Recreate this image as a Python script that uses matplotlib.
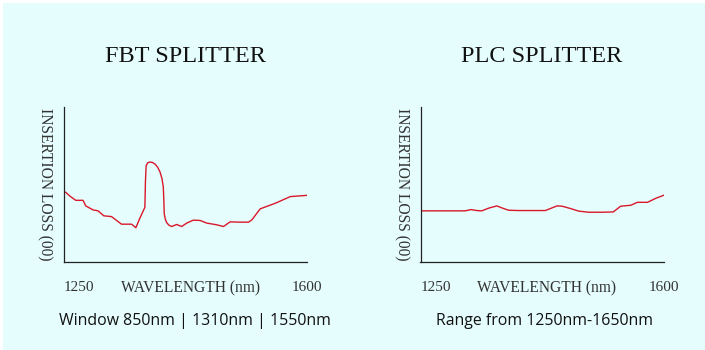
import matplotlib
matplotlib.use("Agg")
import matplotlib.pyplot as plt
from matplotlib.patches import Rectangle

# FBT splitter curve (wavelength nm, relative insertion loss)
fbt_wl = [1252.4, 1258.2, 1266.9, 1277.4, 1281.3, 1291.9, 1299.1, 1307.3, 1318.4,
          1332.8, 1347.3, 1353.5, 1359.3, 1366.5, 1367.3, 1368.3, 1370.5, 1373.7,
          1377.5, 1381.0, 1384.8, 1388.2, 1391.0, 1393.0, 1393.8, 1394.4, 1396.0,
          1397.8, 1401.0, 1405.0, 1412.3, 1419.5, 1426.7, 1436.3, 1446.0,
          1455.6, 1470.0, 1479.7, 1489.3, 1503.7, 1515.8, 1520.6, 1532.6, 1554.3,
          1576.0, 1600.0]
fbt_loss = [4.50, 4.26, 3.98, 3.98, 3.62, 3.36, 3.30, 2.98, 2.93,
            2.44, 2.44, 2.21, 2.83, 3.53, 5.20, 6.20, 6.40, 6.45,
            6.42, 6.32, 6.12, 5.82, 5.40, 4.86, 4.00, 3.10, 2.75,
            2.55, 2.38, 2.29, 2.42, 2.29, 2.51, 2.70, 2.68,
            2.51, 2.40, 2.29, 2.59, 2.57, 2.57, 2.72, 3.43, 3.79,
            4.22, 4.30]

# PLC splitter curve
plc_wl = [1250.0, 1314.1, 1322.8, 1331.0, 1338.2, 1347.9, 1359.9, 1367.2, 1376.8,
          1391.3, 1429.8, 1437.1, 1446.7, 1454.0, 1466.0, 1478.1, 1492.5, 1511.8,
          1527.7, 1538.3, 1552.8, 1562.4, 1576.9, 1589.0, 1600.0]
plc_loss = [3.30, 3.30, 3.38, 3.32, 3.30, 3.47, 3.62, 3.49, 3.34,
            3.32, 3.32, 3.45, 3.62, 3.60, 3.45, 3.28, 3.21, 3.21,
            3.23, 3.60, 3.66, 3.85, 3.85, 4.11, 4.30]

titles = ["FBT SPLITTER", "PLC SPLITTER"]
notes = ["Window 850nm | 1310nm | 1550nm", "Range from 1250nm-1650nm"]
tick_vals = [1250, 1600]

bg = "#e5fdfd"
serif = ["Liberation Serif", "DejaVu Serif"]

fig = plt.figure(figsize=(7.05, 3.5), dpi=100, facecolor="white")
fig.patches.append(Rectangle((3 / 705, 0), 1, 1 - 3 / 350, transform=fig.transFigure,
                             facecolor=bg, edgecolor="none", zorder=-10))

lefts = [64 / 705, 420.5 / 705]
series = [(fbt_wl, fbt_loss), (plc_wl, plc_loss)]

for i in range(2):
    ax = fig.add_axes([lefts[i], 88 / 350, 243 / 705, 155 / 350])
    ax.set_facecolor(bg)
    wl, loss = series[i]
    ax.plot(wl, loss, color="#d9182a", lw=1.0)
    ax.set_xlim(1250, 1600)
    ax.set_ylim(0, 10)
    for s in ["top", "right"]:
        ax.spines[s].set_visible(False)
    for s in ["left", "bottom"]:
        ax.spines[s].set_color("#222222")
        ax.spines[s].set_linewidth(0.9)
    ax.set_yticks([])
    ax.set_xticks(tick_vals)
    ax.set_xticklabels([str(v) for v in tick_vals], fontfamily=serif, fontsize=11, color="#333333")
    ax.tick_params(axis="x", length=0, pad=14)
    ax.get_xticklabels()[0].set_horizontalalignment("left")
    ax.set_xlabel("WAVELENGTH (nm)", fontfamily=serif, fontsize=11.2, color="#333333")
    ax.xaxis.set_label_coords(0.52, -0.17)
    ax.xaxis.label.set_verticalalignment("center")
    ax.set_ylabel("INSERTION LOSS (00)", fontfamily=serif, fontsize=11.2, color="#333333",
                  rotation=270)
    ax.yaxis.set_label_coords(-0.078, 0.5)
    ax.yaxis.label.set_verticalalignment("center")

    cx = lefts[i] + 243 / 705 / 2
    fig.text(cx, 1 - 57 / 350, titles[i], fontfamily=serif, fontsize=17.5,
             ha="center", va="center", color="#111111")
    nx = [194.5 / 705, 545 / 705][i]
    fig.text(nx, 1 - 321 / 350, notes[i], fontfamily=["Open Sans", "DejaVu Sans"],
             fontsize=11.4, ha="center", va="center", color="#111111")

fig.savefig("out.png", dpi=100, facecolor=fig.get_facecolor())
